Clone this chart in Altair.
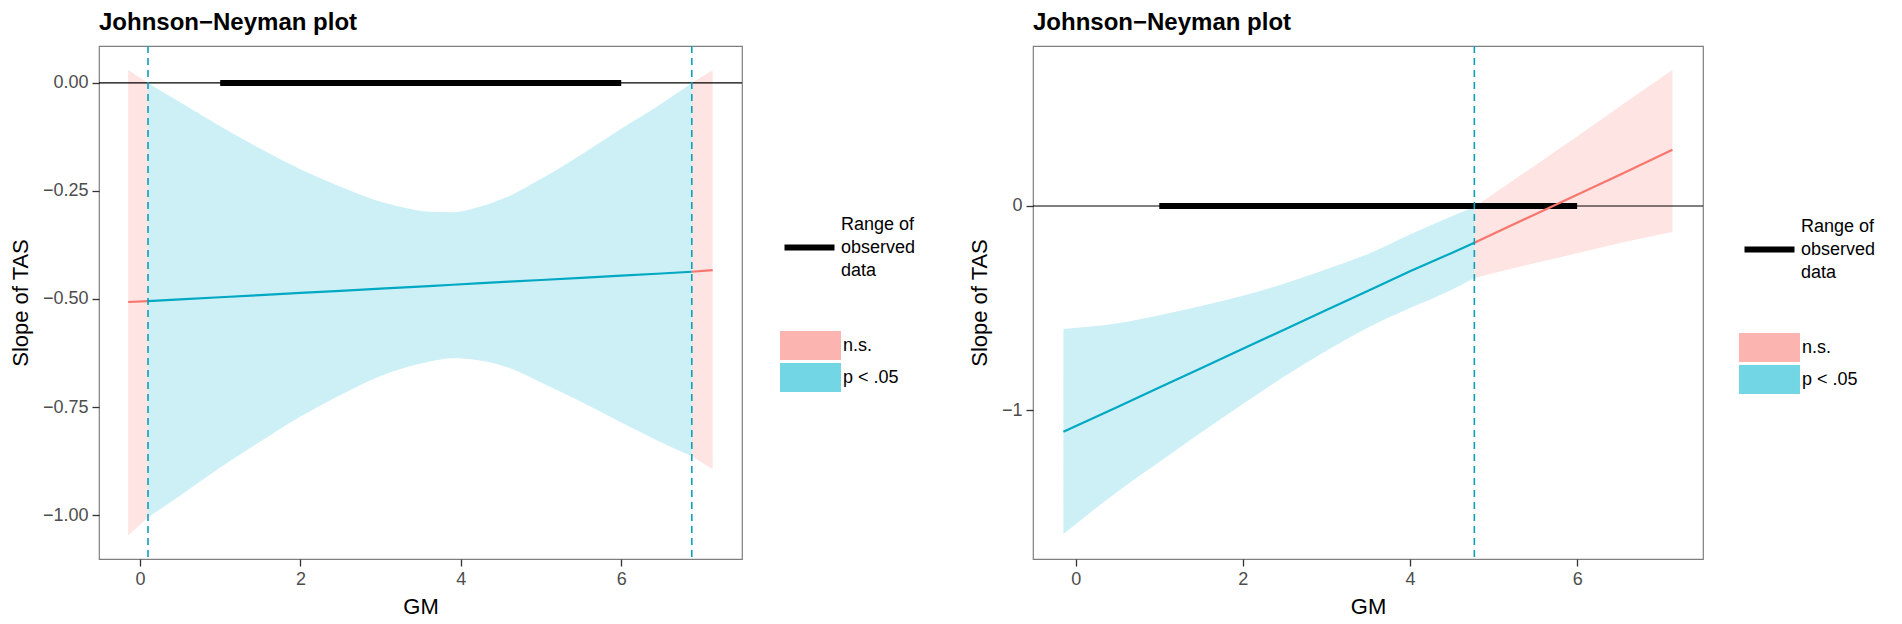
import altair as alt
import pandas as pd

FONT = "Liberation Sans"
TITLE = "Johnson\u2212Neyman plot"
SIG_DOMAIN = ["n.s.", "p < .05"]
SIG_FILL = ["#F8766D", "#00B4D0"]
SIG_LINE = ["#F8766D", "#00A8C4"]
OBS_LABEL = "Range of observed data"

# ---------------- left panel values ----------------
L_ns1_x = [-0.147, 0.10]
L_ns1_est = [-0.507, -0.505]
L_ns1_hi = [0.03, 0.0]
L_ns1_lo = [-1.047, -1.005]

L_sig_x = [0.10, 0.5, 1.0, 1.5, 2.0, 2.5, 3.0, 3.3, 3.6, 3.9, 4.2, 4.6, 5.0, 5.5, 6.0, 6.5, 6.88]
L_sig_est = [-0.505, -0.501, -0.496, -0.491, -0.486, -0.481, -0.476, -0.473, -0.470, -0.467,
             -0.464, -0.460, -0.456, -0.451, -0.446, -0.441, -0.437]
L_sig_hi = [0.0, -0.045, -0.10, -0.152, -0.20, -0.24, -0.275, -0.289, -0.298, -0.299,
            -0.288, -0.262, -0.222, -0.166, -0.106, -0.048, 0.0]
L_sig_lo = [-1.005, -0.955, -0.89, -0.83, -0.772, -0.722, -0.678, -0.659, -0.645, -0.637,
            -0.641, -0.659, -0.693, -0.738, -0.786, -0.832, -0.864]

L_ns2_x = [6.88, 7.14]
L_ns2_est = [-0.437, -0.433]
L_ns2_hi = [0.0, 0.03]
L_ns2_lo = [-0.864, -0.894]

L_jn = [0.10, 6.88]
L_yticks = [0.0, -0.25, -0.5, -0.75, -1.0]
L_ydom = [-1.1016, 0.0854]

# ---------------- right panel values ----------------
R_sig_x = [-0.147, 0.5, 1.0, 1.5, 2.0, 2.5, 3.0, 3.5, 4.0, 4.5, 4.77]
R_sig_est = [-1.107, -0.985, -0.89, -0.795, -0.70, -0.605, -0.51, -0.415, -0.32, -0.23, -0.18]
R_sig_hi = [-0.603, -0.575, -0.535, -0.49, -0.44, -0.38, -0.31, -0.235, -0.14, -0.05, -0.005]
R_sig_lo = [-1.608, -1.40, -1.255, -1.11, -0.97, -0.835, -0.71, -0.595, -0.50, -0.41, -0.353]

R_ns_x = [4.77, 5.5, 6.0, 6.5, 7.14]
R_ns_est = [-0.18, -0.04, 0.055, 0.15, 0.275]
R_ns_hi = [-0.005, 0.20, 0.34, 0.485, 0.667]
R_ns_lo = [-0.353, -0.28, -0.232, -0.183, -0.127]

R_jn = [4.77]
R_yticks = [0, -1]
R_ydom = [-1.730, 0.784]

OBS_RANGE = [1.0, 6.0]
X_DOM = [-0.511, 7.506]
X_TICKS = [0, 2, 4, 6]


def seg_frame(parts):
    rows = []
    for seg, (sig, xs, est, lo, hi) in enumerate(parts):
        for a, b, c, d in zip(xs, est, lo, hi):
            rows.append({"GM": a, "est": b, "lo": c, "hi": d, "sig": sig, "seg": seg})
    return pd.DataFrame(rows)


def panel(df, jn, ydom, yticks, yfmt, width, lx, ly, fx, fy):
    xs = alt.Scale(domain=X_DOM, nice=False, zero=False)
    ys = alt.Scale(domain=ydom, nice=False, zero=False)
    xaxis = alt.Axis(values=X_TICKS, format="d", title="GM")
    yaxis = alt.Axis(values=yticks, format=yfmt, title="Slope of TAS")

    band = alt.Chart(df).mark_area(opacity=0.2, interpolate="monotone").encode(
        x=alt.X("GM:Q", scale=xs, axis=xaxis),
        y=alt.Y("lo:Q", scale=ys, axis=yaxis),
        y2="hi:Q",
        detail="seg:N",
        fill=alt.Fill("sig:N", scale=alt.Scale(domain=SIG_DOMAIN, range=SIG_FILL),
                      legend=alt.Legend(title=None, orient="none", legendX=fx, legendY=fy,
                                        symbolType="M-2,-0.95H2V0.95H-2Z", symbolSize=930,
                                        symbolOpacity=0.55, symbolStrokeWidth=0,
                                        labelFontSize=18, labelColor="black", labelFont=FONT,
                                        labelOffset=17, rowPadding=2, padding=0)),
    )
    zero = alt.Chart(pd.DataFrame({"y": [0]})).mark_rule(color="black", strokeWidth=1.1).encode(
        y=alt.Y("y:Q", scale=ys))
    obs = alt.Chart(pd.DataFrame({"a": [OBS_RANGE[0]], "b": [OBS_RANGE[1]], "y": [0],
                                  "k": [OBS_LABEL]})).mark_rule(strokeWidth=6, strokeCap="butt").encode(
        x=alt.X("a:Q", scale=xs), x2="b:Q", y=alt.Y("y:Q", scale=ys),
        stroke=alt.Stroke("k:N", scale=alt.Scale(domain=[OBS_LABEL], range=["black"]),
                          legend=alt.Legend(title=None, orient="none", legendX=lx, legendY=ly,
                                            symbolType="M-2,1.84H2", symbolSize=625,
                                            symbolStrokeWidth=6, labelFontSize=18,
                                            labelColor="black", labelFont=FONT,
                                            labelExpr="['Range of','observed','data']",
                                            labelOffset=16, padding=0)),
    )
    line = alt.Chart(df).mark_line(strokeWidth=2.2).encode(
        x=alt.X("GM:Q", scale=xs), y=alt.Y("est:Q", scale=ys), detail="seg:N",
        color=alt.Color("sig:N", scale=alt.Scale(domain=SIG_DOMAIN, range=SIG_LINE), legend=None),
    )
    dash = alt.Chart(pd.DataFrame({"jn": jn})).mark_rule(
        color="#0E9FBA", strokeDash=[7, 5], strokeWidth=1.6).encode(x=alt.X("jn:Q", scale=xs))
    return alt.layer(band, zero, obs, line, dash).properties(
        width=width, height=513,
        title=alt.TitleParams(TITLE, anchor="start", frame="group", fontSize=24,
                              fontWeight="bold", font=FONT, color="black", offset=10),
    )


left_df = seg_frame([
    ("n.s.", L_ns1_x, L_ns1_est, L_ns1_lo, L_ns1_hi),
    ("p < .05", L_sig_x, L_sig_est, L_sig_lo, L_sig_hi),
    ("n.s.", L_ns2_x, L_ns2_est, L_ns2_lo, L_ns2_hi),
])
right_df = seg_frame([
    ("p < .05", R_sig_x, R_sig_est, R_sig_lo, R_sig_hi),
    ("n.s.", R_ns_x, R_ns_est, R_ns_lo, R_ns_hi),
])

left = panel(left_df, L_jn, L_ydom, L_yticks, ".2f", 643, 695, 163, 696, 284)
right = panel(right_df, R_jn, R_ydom, R_yticks, "d", 670, 721, 165, 721, 286)

chart = alt.hconcat(left, right, spacing=50).resolve_scale(
    fill="independent", stroke="independent", color="independent"
).properties(
    padding={"left": 0, "top": 2, "right": 0, "bottom": 0}
).configure(
    style={"guide-label": {"lineHeight": 23}}
).configure_view(
    stroke="#7F7F7F", strokeWidth=1.2
).configure_axis(
    domain=False, grid=False, tickColor="#333333", tickSize=7, tickWidth=1.3,
    labelFont=FONT, labelFontSize=18, labelColor="#4D4D4D", labelPadding=4,
    titleFont=FONT, titleFontSize=22, titleFontWeight="normal", titleColor="black",
).configure_axisY(titlePadding=10).configure_axisX(titlePadding=8)

chart.save("out.html", embed_options={"renderer": "svg", "actions": False})
